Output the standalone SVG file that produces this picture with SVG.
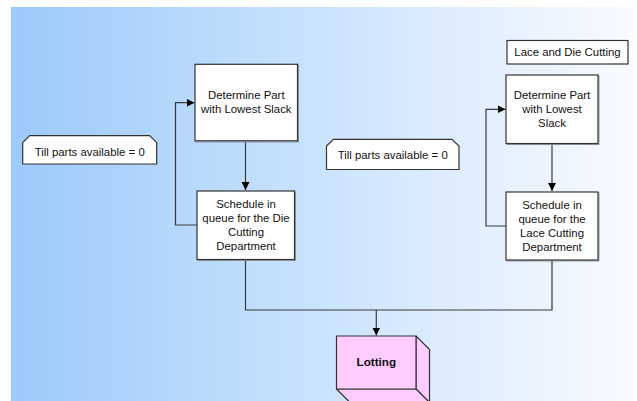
<svg xmlns="http://www.w3.org/2000/svg" width="637" height="401" viewBox="0 0 637 401">
  <defs>
    <linearGradient id="bg" x1="0" y1="0" x2="1" y2="0">
      <stop offset="0" stop-color="#9CCAFB"/>
      <stop offset="0.45" stop-color="#C6E1FD"/>
      <stop offset="1" stop-color="#F9FBFF"/>
    </linearGradient>
    <marker id="arrow" markerUnits="userSpaceOnUse" markerWidth="9" markerHeight="9" refX="8" refY="4" orient="auto">
      <path d="M0,0 L8,4 L0,8 Z" fill="#000"/>
    </marker>
  </defs>
  <style>
    .box { fill: #ffffff; stroke: #333333; stroke-width: 1.2; }
    .shadow { fill: none; stroke: #8a96a3; stroke-width: 1; }
    .txt { font-family: "Liberation Sans", Arial, sans-serif; font-size: 11.4px; fill: #111111; text-anchor: middle; }
    .bold { font-weight: bold; font-size: 11.7px; }
    .conn { fill: none; stroke: #3a3a3a; stroke-width: 1.2; }
    .cube { fill: #FFCCFF; stroke: #333333; stroke-width: 1.2; stroke-linejoin: round; }
  </style>

  <!-- backdrop -->
  <rect x="0" y="0" width="637" height="401" fill="#ffffff"/>
  <rect x="11" y="7" width="622" height="394" fill="url(#bg)"/>

  <!-- connectors -->
  <g id="connectors">
    <path class="conn" d="M245.5,141 V190" marker-end="url(#arrow)"/>
    <path class="conn" d="M552,144 V191" marker-end="url(#arrow)"/>
    <path class="conn" d="M197,225 H175.5 V102.7 H194.5" marker-end="url(#arrow)"/>
    <path class="conn" d="M506,226 H486 V109.3 H505.5" marker-end="url(#arrow)"/>
    <path class="conn" d="M245.5,259.5 V310 H552 V260.5"/>
    <path class="conn" d="M376.3,310 V335.5" marker-end="url(#arrow)"/>
  </g>

  <!-- title label -->
  <g id="title">
    <rect class="box" x="507" y="40.5" width="121" height="23.5"/>
    <text class="txt" x="567.5" y="56">Lace and Die Cutting</text>
  </g>

  <!-- left branch: die cutting -->
  <g id="determine-die">
    <rect class="shadow" x="196" y="65" width="102.5" height="77"/>
    <rect class="box" x="195" y="64.3" width="102.5" height="76.5"/>
    <text class="txt" x="246.3" y="99">Determine Part</text>
    <text class="txt" x="246.3" y="113">with Lowest Slack</text>
  </g>
  <g id="schedule-die">
    <rect class="shadow" x="198" y="192" width="97.5" height="68.5"/>
    <rect class="box" x="197" y="191" width="97.5" height="68.5"/>
    <text class="txt" x="246" y="208">Schedule in</text>
    <text class="txt" x="246" y="222">queue for the Die</text>
    <text class="txt" x="246" y="236">Cutting</text>
    <text class="txt" x="246" y="250">Department</text>
  </g>
  <g id="note-die">
    <path class="box" d="M22.7,142.7 L29.7,135.7 H149.7 L156.7,142.7 V164 H22.7 Z"/>
    <text class="txt" x="89.7" y="156">Till parts available = 0</text>
  </g>

  <!-- right branch: lace cutting -->
  <g id="determine-lace">
    <rect class="shadow" x="507" y="76" width="92" height="68.5"/>
    <rect class="box" x="506" y="75" width="92" height="68.5"/>
    <text class="txt" x="552" y="99">Determine Part</text>
    <text class="txt" x="552" y="113">with Lowest</text>
    <text class="txt" x="552" y="127">Slack</text>
  </g>
  <g id="schedule-lace">
    <rect class="shadow" x="507" y="193" width="92" height="68"/>
    <rect class="box" x="506" y="192" width="92" height="68"/>
    <text class="txt" x="552" y="209">Schedule in</text>
    <text class="txt" x="552" y="223">queue for the</text>
    <text class="txt" x="552" y="237">Lace Cutting</text>
    <text class="txt" x="552" y="251">Department</text>
  </g>
  <g id="note-lace">
    <path class="box" d="M326.5,146 L333.5,139.3 H452 L459,146 V169.5 H326.5 Z"/>
    <text class="txt" x="392.7" y="158.5">Till parts available = 0</text>
  </g>

  <!-- merge target -->
  <g id="lotting">
    <path class="cube" d="M416,336 L429.5,349.5 V402.5 L416,389 Z"/>
    <path class="cube" d="M336.5,389 L350,402.5 H429.5 L416,389 Z"/>
    <rect class="cube" x="336.5" y="336" width="79.5" height="53"/>
    <text class="txt bold" x="376.3" y="366">Lotting</text>
  </g>
</svg>
